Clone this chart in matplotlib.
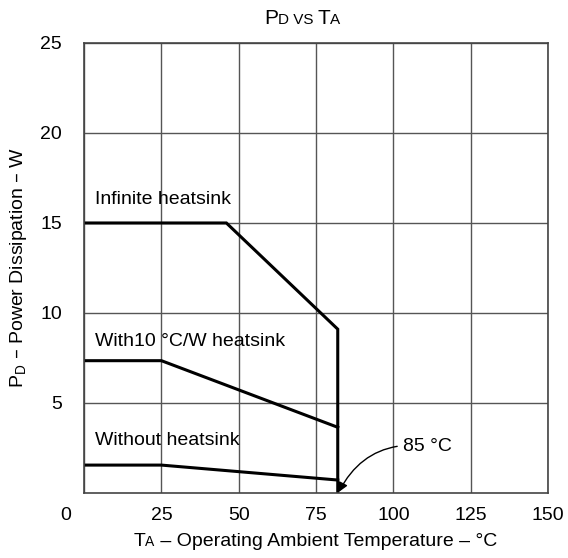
import matplotlib
matplotlib.use("Agg")
import matplotlib.pyplot as plt
import matplotlib.transforms as mtransforms
from matplotlib.offsetbox import TextArea, HPacker, AnchoredOffsetbox

plt.rcParams["font.family"] = ["Liberation Sans", "DejaVu Sans"]

# data
infinite_x = [0, 46, 82, 82]
infinite_y = [15, 15, 9.1, 0]
with10_x = [0, 25, 82]
with10_y = [7.35, 7.35, 3.65]
without_x = [0, 25, 82]
without_y = [1.55, 1.55, 0.72]

x_ticks = [0, 25, 50, 75, 100, 125, 150]
y_ticks = [5, 10, 15, 20, 25]
y_tick_labels = ["5", "10", "15", "20", "25"]

FS = 14

fig = plt.figure(figsize=(5.68, 5.58), dpi=100)
ax = fig.add_axes([0.148, 0.1165, 0.817, 0.8065])

ax.set_xlim(0, 150)
ax.set_ylim(0, 25)
ax.set_xticks(x_ticks)
ax.set_yticks(y_ticks)
ax.set_yticklabels(y_tick_labels)
ax.tick_params(length=0, labelsize=FS, colors="black")
ax.tick_params(axis="y", pad=16)
ax.tick_params(axis="x", pad=10)
ax.grid(True, color="#555555", linewidth=1)
for s in ax.spines.values():
    s.set_color("#444444")
    s.set_linewidth(1.2)

# "0" label sits left of the axis
lbl0 = ax.get_xticklabels()[0]
lbl0.set_transform(lbl0.get_transform() + mtransforms.ScaledTranslation(-18 / 100, 0, fig.dpi_scale_trans))

ax.plot(infinite_x, infinite_y, color="black", linewidth=2.2, solid_joinstyle="miter")
ax.plot(with10_x, with10_y, color="black", linewidth=2.2)
ax.plot(without_x, without_y, color="black", linewidth=2.2)

ax.text(3.5, 16.3, "Infinite heatsink", fontsize=FS, va="center")
ax.text(3.5, 8.4, "With10 \u00b0C/W heatsink", fontsize=FS, va="center")
ax.text(3.5, 2.9, "Without heatsink", fontsize=FS, va="center")

ax.annotate("85 \u00b0C", xy=(82.3, 0.05), xytext=(103, 2.6), fontsize=FS, va="center",
            arrowprops=dict(arrowstyle="-|>", color="black", lw=1, mutation_scale=14,
                            connectionstyle="arc3,rad=0.35", shrinkA=2, shrinkB=0))

# title with small-caps style subscripts
parts = [("P", 15), ("D", 11), (" VS ", 11), ("T", 15), ("A", 11)]
boxes = [TextArea(t, textprops=dict(fontsize=s)) for t, s in parts]
title = HPacker(children=boxes, align="baseline", pad=0, sep=0)
fig.add_artist(AnchoredOffsetbox(loc="center", child=title, frameon=False,
                                 bbox_to_anchor=(0.532, 0.966),
                                 bbox_transform=fig.transFigure))

xparts = [("T", FS), ("A", 10), (" \u2013 Operating Ambient Temperature \u2013 \u00b0C", FS)]
xboxes = [TextArea(t, textprops=dict(fontsize=s)) for t, s in xparts]
xlab = HPacker(children=xboxes, align="baseline", pad=0, sep=0)
fig.add_artist(AnchoredOffsetbox(loc="center", child=xlab, frameon=False,
                                 bbox_to_anchor=(0.555, 0.03),
                                 bbox_transform=fig.transFigure))

fig.text(0.032, 0.52, "P$_\\mathregular{D}$ \u2013 Power Dissipation \u2013 W",
         rotation=90, fontsize=FS, ha="center", va="center")

fig.savefig("out.png", dpi=100)
